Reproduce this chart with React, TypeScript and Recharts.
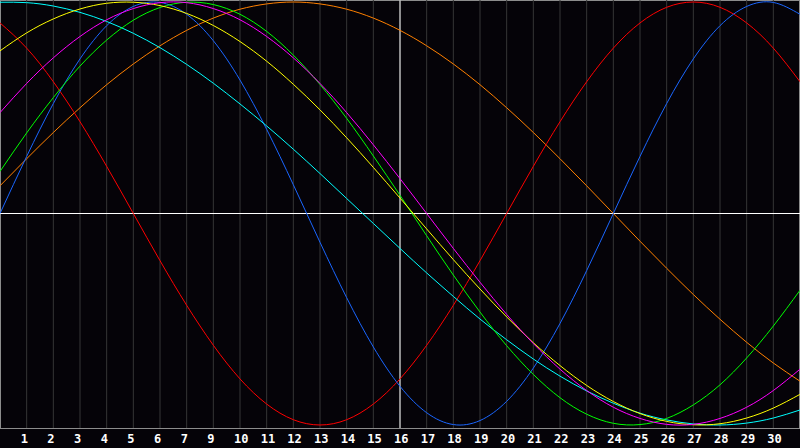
import { LineChart, Line, XAxis, YAxis, CartesianGrid, ReferenceLine } from 'recharts';

// grid positions 0..30, labels shown on lines 1..29 (day 8 is skipped in the original)
const positions = Array.from({ length: 31 }, (_, i) => i);
const tickPositions = positions.slice(1, 30);
const tickLabels = ['1', '2', '3', '4', '5', '6', '7', '9', '10', '11', '12', '13', '14', '15', '16', '17', '18', '19', '20', '21', '22', '23', '24', '25', '26', '27', '28', '29', '30'];

const blue = [0, 0.27, 0.52, 0.731, 0.888, 0.979, 0.998, 0.942, 0.817, 0.631, 0.398, 0.136, -0.136, -0.398, -0.631, -0.817, -0.942, -0.998, -0.979, -0.888, -0.731, -0.52, -0.27, 0, 0.27, 0.52, 0.731, 0.888, 0.979, 0.998, 0.942];
const red = [0.901, 0.782, 0.623, 0.434, 0.223, 0, -0.223, -0.434, -0.623, -0.782, -0.901, -0.975, -1, -0.975, -0.901, -0.782, -0.623, -0.434, -0.223, 0, 0.223, 0.434, 0.623, 0.782, 0.901, 0.975, 1, 0.975, 0.901, 0.782, 0.623];
const green = [0.199, 0.381, 0.548, 0.697, 0.82, 0.914, 0.974, 0.999, 0.988, 0.942, 0.861, 0.749, 0.61, 0.45, 0.272, 0.086, -0.105, -0.291, -0.466, -0.625, -0.761, -0.871, -0.949, -0.992, -0.998, -0.969, -0.905, -0.81, -0.683, -0.532, -0.363];
const orange = [0.131, 0.259, 0.383, 0.5, 0.609, 0.707, 0.793, 0.866, 0.924, 0.966, 0.991, 1, 0.991, 0.966, 0.924, 0.866, 0.793, 0.707, 0.609, 0.5, 0.383, 0.259, 0.131, 0, -0.131, -0.259, -0.383, -0.5, -0.609, -0.707, -0.793];
const yellow = [0.769, 0.854, 0.92, 0.967, 0.994, 0.999, 0.983, 0.946, 0.889, 0.813, 0.72, 0.611, 0.49, 0.358, 0.218, 0.073, -0.073, -0.218, -0.357, -0.489, -0.611, -0.719, -0.813, -0.889, -0.946, -0.983, -0.999, -0.994, -0.967, -0.92, -0.855];
const magenta = [0.477, 0.615, 0.736, 0.837, 0.916, 0.969, 0.997, 0.997, 0.969, 0.916, 0.837, 0.736, 0.615, 0.477, 0.325, 0.165, 0, -0.165, -0.325, -0.477, -0.615, -0.736, -0.837, -0.916, -0.969, -0.997, -0.997, -0.969, -0.916, -0.837, -0.736];
const cyan = [0.999, 0.997, 0.981, 0.951, 0.908, 0.852, 0.784, 0.705, 0.616, 0.518, 0.414, 0.304, 0.189, 0.071, -0.047, -0.165, -0.281, -0.392, -0.499, -0.597, -0.688, -0.769, -0.839, -0.897, -0.944, -0.976, -0.995, -1, -0.991, -0.967, -0.929];

const data = positions.map((p, i) => ({
  pos: p,
  blue: blue[i],
  red: red[i],
  green: green[i],
  orange: orange[i],
  yellow: yellow[i],
  magenta: magenta[i],
  cyan: cyan[i],
}));

const series = [
  { key: 'orange', color: '#ff8000' },
  { key: 'red', color: '#ff0000' },
  { key: 'blue', color: '#1a66ff' },
  { key: 'cyan', color: '#00ffff' },
  { key: 'green', color: '#00ff00' },
  { key: 'yellow', color: '#ffff00' },
  { key: 'magenta', color: '#ff00ff' },
];

function DayTick({ x, y, payload }: any) {
  const idx = tickPositions.indexOf(payload.value);
  return (
    <text x={x - 6} y={y + 7} fill="#ffffff" textAnchor="start" fontSize={12} fontWeight="bold" fontFamily="'DejaVu Sans Mono', monospace">
      {tickLabels[idx]}
    </text>
  );
}

export default function App() {
  return (
    <div style={{ position: 'absolute', left: 0, top: 0, width: 800, height: 448, background: '#050308' }}>
      <div style={{ position: 'absolute', left: 0, top: 0, width: 800, height: 429, border: '1px solid #8c8c8c', boxSizing: 'border-box' }} />
      <div style={{ position: 'absolute', left: 0, top: 0 }}>
        <LineChart width={800} height={448} data={data} margin={{ top: 0, right: 0, left: 0, bottom: 0 }}>
          <CartesianGrid horizontal={false} stroke="#363636" verticalValues={tickPositions} />
          <XAxis
            dataKey="pos"
            type="number"
            domain={[0, 30]}
            ticks={tickPositions}
            interval={0}
            tickLine={false}
            axisLine={false}
            height={20}
            tick={<DayTick />}
          />
          <YAxis hide domain={[-1.0142, 1.0095]} />
          <ReferenceLine y={0} stroke="#ffffff" />
          <ReferenceLine x={15} stroke="#ffffff" />
          {series.map((s) => (
            <Line
              key={s.key}
              type="natural"
              dataKey={s.key}
              stroke={s.color}
              strokeWidth={1}
              dot={false}
              activeDot={false}
              isAnimationActive={false}
            />
          ))}
        </LineChart>
      </div>
    </div>
  );
}
